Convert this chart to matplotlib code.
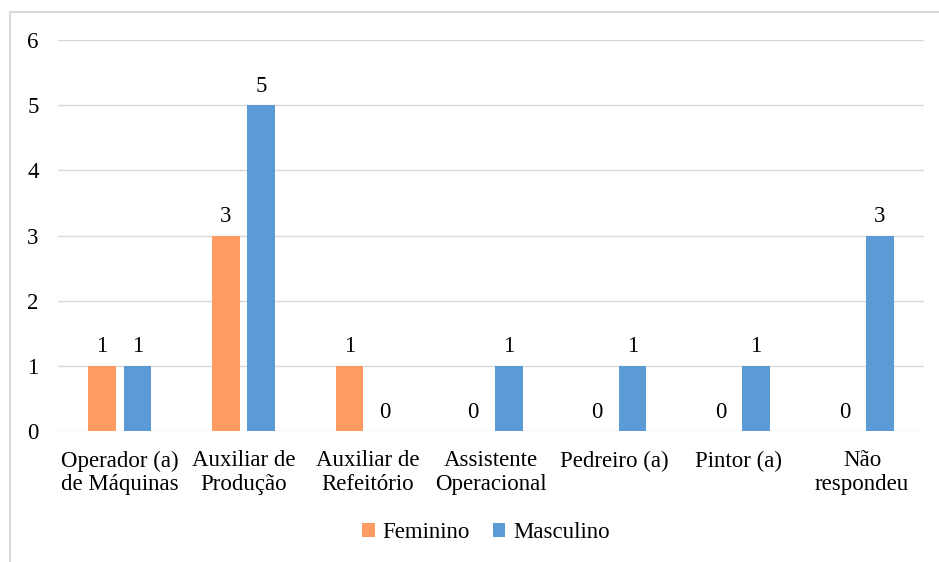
import numpy as np
import matplotlib.pyplot as plt
from matplotlib.lines import Line2D

# occupation counts by sex
categorias = ["Operador (a)\nde Máquinas", "Auxiliar de\nProdução", "Auxiliar de\nRefeitório",
              "Assistente\nOperacional", "Pedreiro (a)", "Pintor (a)", "Não\nrespondeu"]
feminino = [1, 3, 1, 0, 0, 0, 0]
masculino = [1, 5, 0, 1, 1, 1, 3]

COR_FEM = "#FF9A62"
COR_MASC = "#5B9BD5"
FS = 16.5

plt.rcParams["font.family"] = ["Liberation Serif", "DejaVu Serif"]
plt.rcParams["font.size"] = FS

fig = plt.figure(figsize=(9.39, 5.62), dpi=100)
ax = fig.add_axes([58 / 939, 1 - 431 / 562, (924 - 58) / 939, (431 - 40) / 562])

x = np.arange(len(categorias))
w = 0.224
gap = 0.062
off = (w + gap) / 2

b1 = ax.bar(x - off, feminino, w, color=COR_FEM, label="Feminino", zorder=3)
b2 = ax.bar(x + off, masculino, w, color=COR_MASC, label="Masculino", zorder=3)

for bars in (b1, b2):
    for b in bars:
        h = b.get_height()
        ax.annotate(f"{h:g}", (b.get_x() + b.get_width() / 2, h), xytext=(0, 6),
                    textcoords="offset points", ha="center", va="bottom", fontsize=FS)

ax.set_xlim(-0.5, len(categorias) - 0.5)
ax.set_ylim(0, 6)
ax.set_yticks(range(7))
ax.set_xticks(x)
ax.set_xticklabels(categorias, linespacing=1.15)
ax.tick_params(axis="both", length=0, labelsize=FS)
ax.tick_params(axis="y", pad=14)
ax.tick_params(axis="x", pad=14)
ax.grid(axis="y", color="#D9D9D9", linewidth=1, zorder=0)
for s in ax.spines.values():
    s.set_visible(False)

# light frame on top and left like the chart area border
fig.add_artist(Line2D([10 / 939, 10 / 939], [0, 1 - 12 / 562], color="#D9D9D9", lw=1.5))
fig.add_artist(Line2D([10 / 939, 1], [1 - 12 / 562, 1 - 12 / 562], color="#D9D9D9", lw=1.5))

fig.legend(handles=[b1, b2], loc="center", bbox_to_anchor=(486 / 939, 1 - 533 / 562),
           ncol=2, frameon=False, fontsize=FS, handlelength=0.55, handleheight=0.55,
           handletextpad=0.35, columnspacing=1.0)

fig.savefig("out.png", dpi=100)
